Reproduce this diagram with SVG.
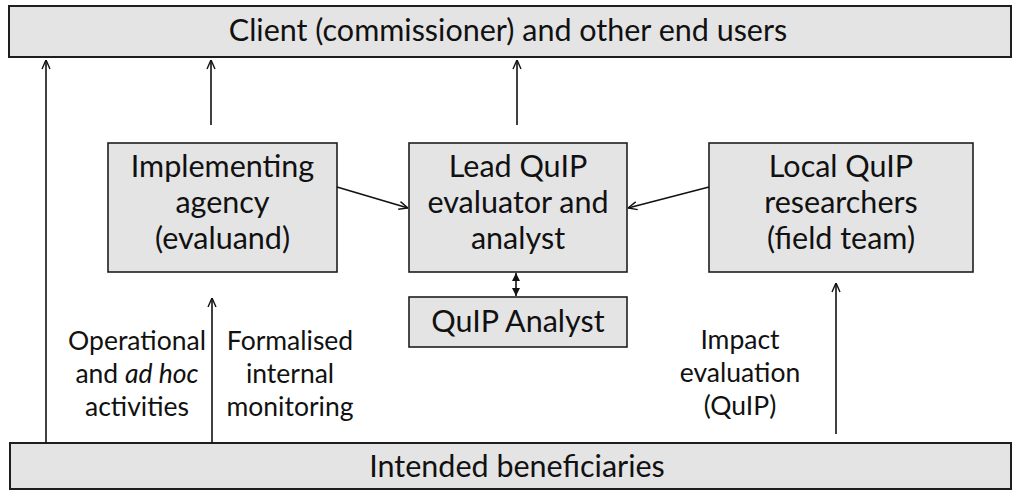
<svg xmlns="http://www.w3.org/2000/svg" width="1015" height="492" viewBox="0 0 1015 492">
  <defs>
    <style>
      .box { fill: #e4e4e4; stroke: #1e1e1e; stroke-width: 1.6; }
      .band { fill: #e4e4e4; stroke: #1e1e1e; stroke-width: 2; }
      .t { font-family: Lato, "Open Sans", "Liberation Sans", sans-serif; fill: #111; text-anchor: middle; }
      .big { font-size: 30.5px; }
      .lbl { font-size: 26.5px; }
      .link { fill: none; stroke: #111; stroke-width: 1.6; }
    </style>
    <marker id="open" viewBox="0 0 10 10" refX="10" refY="5" markerWidth="10" markerHeight="10" markerUnits="userSpaceOnUse" orient="auto">
      <path d="M1,1 L10,5 L1,9" fill="none" stroke="#111" stroke-width="1.4"/>
    </marker>
    <marker id="solid" viewBox="0 0 10 10" refX="10" refY="5" markerWidth="8" markerHeight="8" markerUnits="userSpaceOnUse" orient="auto-start-reverse">
      <path d="M0,0 L10,5 L0,10 Z" fill="#111"/>
    </marker>
  </defs>

  <!-- top band: recipients of evaluation findings -->
  <g id="client">
    <rect class="band" x="9" y="6" width="1002" height="51"/>
    <text class="t big" x="508" y="41">Client (commissioner) and other end users</text>
  </g>

  <g id="implementing-agency">
    <rect class="box" x="108" y="143" width="229" height="129"/>
    <text class="t big" x="222.5" y="177">Implementing</text>
    <text class="t big" x="222.5" y="213">agency</text>
    <text class="t big" x="222.5" y="249">(evaluand)</text>
  </g>

  <g id="lead-evaluator">
    <rect class="box" x="409" y="143" width="218" height="129"/>
    <text class="t big" x="518" y="177">Lead QuIP</text>
    <text class="t big" x="518" y="213">evaluator and</text>
    <text class="t big" x="518" y="249">analyst</text>
  </g>

  <g id="local-researchers">
    <rect class="box" x="709" y="143" width="264" height="129"/>
    <text class="t big" x="841" y="177">Local QuIP</text>
    <text class="t big" x="841" y="213">researchers</text>
    <text class="t big" x="841" y="249">(field team)</text>
  </g>

  <g id="quip-analyst">
    <rect class="box" x="409" y="297" width="218" height="50"/>
    <text class="t big" x="518" y="332">QuIP Analyst</text>
  </g>

  <!-- bottom band -->
  <g id="beneficiaries">
    <rect class="band" x="10" y="443" width="1001" height="46"/>
    <text class="t big" x="517" y="477">Intended beneficiaries</text>
  </g>

  <!-- flow labels -->
  <g id="labels">
    <text class="t lbl" x="137" y="350">Operational</text>
    <text class="t lbl" x="137" y="383">and <tspan font-style="italic">ad hoc</tspan></text>
    <text class="t lbl" x="137" y="416">activities</text>
    <text class="t lbl" x="290" y="350">Formalised</text>
    <text class="t lbl" x="290" y="383">internal</text>
    <text class="t lbl" x="290" y="416">monitoring</text>
    <text class="t lbl" x="740" y="349">Impact</text>
    <text class="t lbl" x="740" y="382">evaluation</text>
    <text class="t lbl" x="740" y="415">(QuIP)</text>
  </g>

  <g id="connectors">
    <line class="link" x1="46" y1="443" x2="46" y2="60" marker-end="url(#open)"/>
    <line class="link" x1="211" y1="125" x2="211" y2="60" marker-end="url(#open)"/>
    <line class="link" x1="517" y1="125" x2="517" y2="60" marker-end="url(#open)"/>
    <line class="link" x1="337" y1="187" x2="408" y2="208" marker-end="url(#open)"/>
    <line class="link" x1="709" y1="187" x2="628" y2="208" marker-end="url(#open)"/>
    <line class="link" x1="516" y1="273" x2="516" y2="296" marker-start="url(#solid)" marker-end="url(#solid)"/>
    <line class="link" x1="212" y1="443" x2="212" y2="298" marker-end="url(#open)"/>
    <line class="link" x1="836" y1="434" x2="836" y2="283" marker-end="url(#open)"/>
  </g>
</svg>
